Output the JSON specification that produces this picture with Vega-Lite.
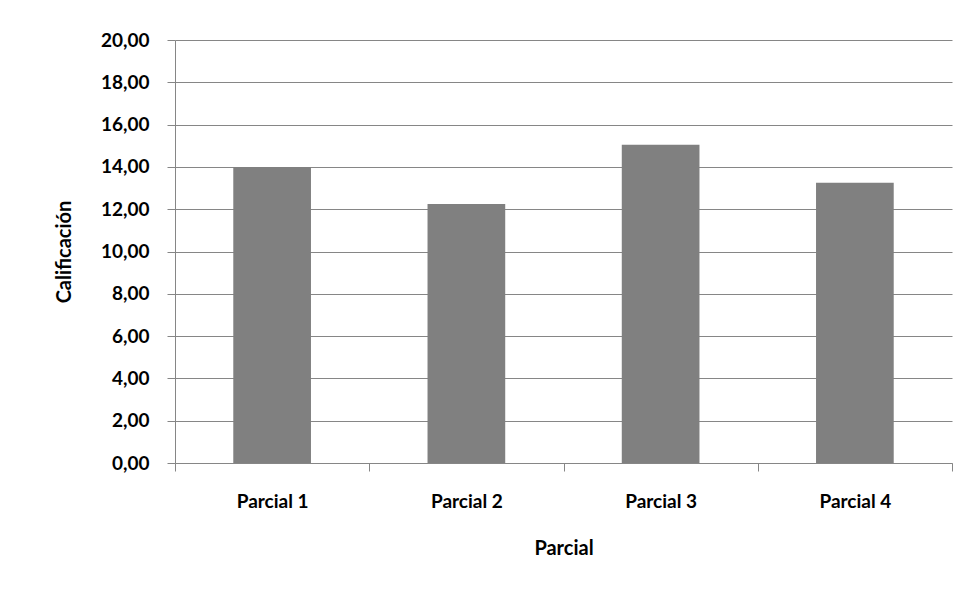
{
  "$schema": "https://vega.github.io/schema/vega-lite/v6.json",
  "autosize": "none",
  "width": 777,
  "height": 423,
  "padding": {"left": 175, "top": 40, "right": 15, "bottom": 127},
  "background": "white",
  "data": {
    "values": [
      {"Parcial": "Parcial 1", "Calificacion": 14.0},
      {"Parcial": "Parcial 2", "Calificacion": 12.25},
      {"Parcial": "Parcial 3", "Calificacion": 15.05},
      {"Parcial": "Parcial 4", "Calificacion": 13.25}
    ]
  },
  "mark": {"type": "bar", "color": "#808080", "width": {"band": 0.4}},
  "encoding": {
    "x": {
      "field": "Parcial",
      "type": "nominal",
      "sort": null,
      "scale": {"paddingInner": 0, "paddingOuter": 0},
      "axis": {
        "title": "Parcial",
        "labelAngle": 0,
        "tickBand": "extent",
        "domainColor": "#868686",
        "tickColor": "#868686",
        "tickSize": 8,
        "labelPadding": 21,
        "labelFont": "Lato",
        "labelFontWeight": "bold",
        "labelFontSize": 19,
        "labelColor": "black",
        "titleFont": "Lato",
        "titleFontWeight": "bold",
        "titleFontSize": 20,
        "titleColor": "black",
        "titlePadding": 27
      }
    },
    "y": {
      "field": "Calificacion",
      "type": "quantitative",
      "scale": {"domain": [0, 20], "nice": false},
      "axis": {
        "title": "Calificación",
        "values": [0, 2, 4, 6, 8, 10, 12, 14, 16, 18, 20],
        "labelExpr": "replace(format(datum.value, '.2f'), '.', ',')",
        "domainColor": "#868686",
        "tickColor": "#868686",
        "gridColor": "#868686",
        "tickSize": 8,
        "labelPadding": 18,
        "labelFont": "Lato",
        "labelFontWeight": "bold",
        "labelFontSize": 19,
        "labelColor": "black",
        "titleFont": "Lato",
        "titleFontWeight": "bold",
        "titleFontSize": 20,
        "titleColor": "black",
        "titlePadding": 26
      }
    }
  },
  "config": {"view": {"stroke": null}}
}
